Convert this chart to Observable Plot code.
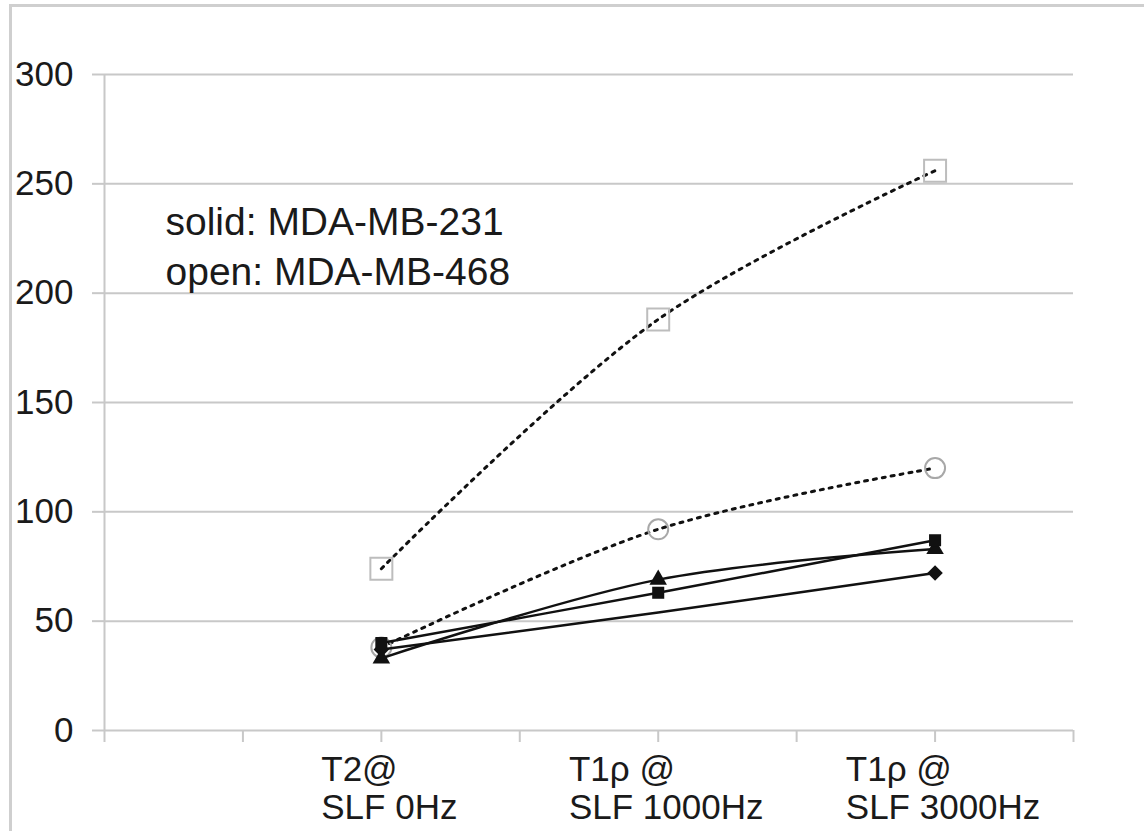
<!DOCTYPE html>
<html>
<head>
<meta charset="utf-8">
<script src="https://cdn.jsdelivr.net/npm/d3@7"></script>
<script src="https://cdn.jsdelivr.net/npm/@observablehq/plot@0.6"></script>
<style>
  html, body { margin: 0; padding: 0; background: #fff; }
  #wrap { position: relative; width: 1144px; height: 831px; overflow: hidden; }
  #frame { position: absolute; left: 9px; top: 4px; width: 1132px; height: 840px;
           border-top: 3px solid #cfcfcf; border-left: 3px solid #cfcfcf; border-right: 2px solid #f0f0f0; }
  #chart { position: absolute; left: 0; top: 0; }
</style>
</head>
<body>
<div id="wrap"><div id="frame"></div><div id="chart"></div></div>
<script>
// ---- data ----
const catPos = [1, 2, 3];
const catLine1 = ["T2@", "T1\u03c1 @", "T1\u03c1 @"];
const catLine2 = ["SLF 0Hz", "SLF 1000Hz", "SLF 3000Hz"];
const xTickVals = [0, 0.5, 1, 1.5, 2, 2.5, 3, 3.5];
const yTickVals = [0, 50, 100, 150, 200, 250, 300];

// MDA-MB-231 (solid markers)
const solidSquare = [40, 63, 87];
const solidTriangle = [33, 69, 83];
const solidDiamond = [37, 54, 72];
// MDA-MB-468 (open markers)
const openSquare = [74, 188, 256];
const openCircle = [38, 92, 120];

const legendLines = ["solid: MDA-MB-231", "open: MDA-MB-468"];

// ---- build tables ----
const toRows = (vals, name) => vals.map((v, i) => ({series: name, x: catPos[i], y: v, idx: i}));
const sSq = toRows(solidSquare, "solidSquare");
const sTr = toRows(solidTriangle, "solidTriangle");
const sDi = toRows(solidDiamond, "solidDiamond");
const oSq = toRows(openSquare, "openSquare");
const oCi = toRows(openCircle, "openCircle");

const FONT = "'Liberation Sans', Arial, Helvetica, sans-serif";
const XFS = 35;
const ctx = document.createElement("canvas").getContext("2d");
ctx.font = `${XFS}px ${FONT}`;
const labelMarks = catPos.flatMap((p, i) => {
  const w = Math.max(ctx.measureText(catLine1[i]).width, ctx.measureText(catLine2[i]).width);
  const dx = -w / 2 + 8;
  const common = {x: () => p, y: () => 0, textAnchor: "start", fontSize: XFS, fill: "#1a1a1a", dx};
  return [
    Plot.text([catLine1[i]], {...common, text: d => d, dy: 39}),
    Plot.text([catLine2[i]], {...common, text: d => d, dy: 77})
  ];
});

const chart = Plot.plot({
  width: 1144,
  height: 831,
  marginLeft: 104,
  marginRight: 71,
  marginTop: 74,
  marginBottom: 101,
  style: {fontFamily: FONT, background: "transparent"},
  x: {domain: [0, 3.5], axis: null},
  y: {domain: [0, 300], axis: null},
  marks: [
    Plot.gridY(yTickVals, {stroke: "#c8c8c8", strokeOpacity: 1, strokeWidth: 2}),
    Plot.axisY(yTickVals, {tickSize: 12, tickPadding: 19, fontSize: 35, stroke: "#c8c8c8", strokeWidth: 2, fill: "#1a1a1a", label: null}),
    Plot.ruleX([0], {stroke: "#c8c8c8", strokeWidth: 2}),
    Plot.axisX(xTickVals, {tickSize: 12, stroke: "#c8c8c8", strokeWidth: 2, tickFormat: () => "", label: null}),
    ...labelMarks,
    Plot.text([legendLines.join("\n")], {
      frameAnchor: "top-left", dx: 61, dy: 125, lineAnchor: "top", textAnchor: "start",
      fontSize: 39, lineHeight: 1.28, fill: "#1a1a1a", text: d => d
    }),
    // open series: dotted lines
    Plot.line(oSq, {x: "x", y: "y", curve: "catmull-rom", stroke: "#111", strokeWidth: 3, strokeDasharray: "3,6"}),
    Plot.line(oCi, {x: "x", y: "y", curve: "catmull-rom", stroke: "#111", strokeWidth: 3, strokeDasharray: "3,6"}),
    Plot.dot(oSq, {x: "x", y: "y", symbol: "square", r: 12.4, stroke: "#bdbdbd", strokeWidth: 2, fill: "none"}),
    Plot.dot(oCi, {x: "x", y: "y", symbol: "circle", r: 10, stroke: "#a8a8a8", strokeWidth: 2, fill: "none"}),
    // solid series
    Plot.line(sDi, {x: "x", y: "y", curve: "catmull-rom", stroke: "#111", strokeWidth: 2.5}),
    Plot.line(sSq, {x: "x", y: "y", curve: "catmull-rom", stroke: "#111", strokeWidth: 2.5}),
    Plot.line(sTr, {x: "x", y: "y", curve: "catmull-rom", stroke: "#111", strokeWidth: 2.5}),
    Plot.dot(sDi.filter(d => d.idx !== 1), {x: "x", y: "y", symbol: "diamond2", r: 7, fill: "#111", stroke: "none"}),
    Plot.dot(sTr, {x: "x", y: "y", symbol: "triangle", r: 6.5, fill: "#111", stroke: "none"}),
    Plot.dot(sSq, {x: "x", y: "y", symbol: "square", r: 6.8, fill: "#111", stroke: "none"})
  ]
});
document.getElementById("chart").appendChild(chart);
</script>
</body>
</html>
